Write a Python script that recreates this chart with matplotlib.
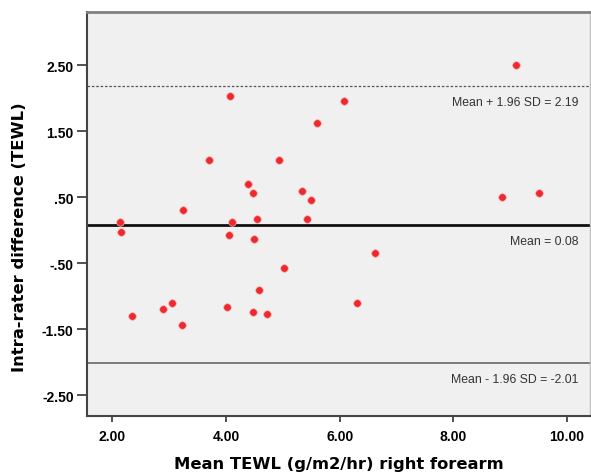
import matplotlib.pyplot as plt

# Bland-Altman data
mean_tewl = [4.08, 6.08, 5.61, 3.70, 4.93, 4.38, 4.48, 5.33, 5.50, 3.25,
             9.11, 8.85, 9.51,
             2.13, 2.15, 4.10, 4.06, 4.55, 4.50, 5.42, 5.02, 4.58,
             2.35, 2.90, 3.05, 3.22, 4.02, 4.48, 4.73, 6.31, 6.63]
diff_tewl = [2.03, 1.96, 1.63, 1.06, 1.06, 0.70, 0.57, 0.60, 0.46, 0.30,
             2.50, 0.50, 0.56,
             0.13, -0.03, 0.13, -0.07, 0.17, -0.14, 0.17, -0.57, -0.90,
             -1.30, -1.20, -1.10, -1.44, -1.17, -1.24, -1.27, -1.10, -0.34]

mean_diff = 0.08
upper_loa = 2.19
lower_loa = -2.01

xticks = [2, 4, 6, 8, 10]
xtick_labels = ['2.00', '4.00', '6.00', '8.00', '10.00']
yticks = [2.5, 1.5, 0.5, -0.5, -1.5, -2.5]
ytick_labels = ['2.50', '1.50', '.50', '-.50', '-1.50', '-2.50']

plt.rcParams['font.family'] = ['Liberation Sans', 'DejaVu Sans']

fig = plt.figure(figsize=(5.91, 4.77), dpi=100)
ax = fig.add_axes([0.147, 0.1264, 0.851, 0.8456])
ax.set_facecolor('#f0f0f0')

ax.axhline(upper_loa, color='#555555', lw=0.9, ls=(0, (2, 1.5)), zorder=1)
ax.axhline(mean_diff, color='#111111', lw=2.0, zorder=1)
ax.axhline(lower_loa, color='#666666', lw=1.2, zorder=1)

ax.scatter(mean_tewl, diff_tewl, s=30, color='#ee2a2f', edgecolors='#f5b0b0',
           linewidths=0.5, zorder=3)

ax.set_xlim(1.555, 10.40)
ax.set_ylim(-2.81, 3.30)
ax.set_xticks(xticks)
ax.set_xticklabels(xtick_labels)
ax.set_yticks(yticks)
ax.set_yticklabels(ytick_labels)
ax.tick_params(axis='x', direction='out', length=4.3, width=1.2,
               color='#333333', labelsize=10, pad=5.5)
ax.tick_params(axis='y', direction='out', length=7, width=1.2,
               color='#333333', labelsize=10, pad=2.5)
for lbl in ax.get_xticklabels() + ax.get_yticklabels():
    lbl.set_fontweight('bold')

for side in ['left', 'bottom']:
    ax.spines[side].set_color('#444444')
    ax.spines[side].set_linewidth(1.5)
ax.spines['top'].set_color('#808080')
ax.spines['top'].set_linewidth(2)
ax.spines['right'].set_color('#c0c0c0')
ax.spines['right'].set_linewidth(1)

tx = 10.205
ax.text(tx, upper_loa - 0.25, 'Mean + 1.96 SD = 2.19', ha='right', va='center',
        fontsize=8.8, color='#333333')
ax.text(tx, mean_diff - 0.25, 'Mean = 0.08', ha='right', va='center',
        fontsize=8.8, color='#333333')
ax.text(tx, lower_loa - 0.25, 'Mean - 1.96 SD = -2.01', ha='right', va='center',
        fontsize=8.8, color='#333333')

ax.set_xlabel('Mean TEWL (g/m2/hr) right forearm', fontsize=11.8,
              fontweight='bold', family='DejaVu Sans')
ax.set_ylabel('Intra-rater difference (TEWL)', fontsize=11.8,
              fontweight='bold', family='DejaVu Sans')
ax.xaxis.set_label_coords(0.5, -0.118)
ax.yaxis.set_label_coords(-0.133, 0.4455)
ax.yaxis.label.set_va('center')
ax.xaxis.label.set_va('center')

fig.savefig('out.png', dpi=100)
